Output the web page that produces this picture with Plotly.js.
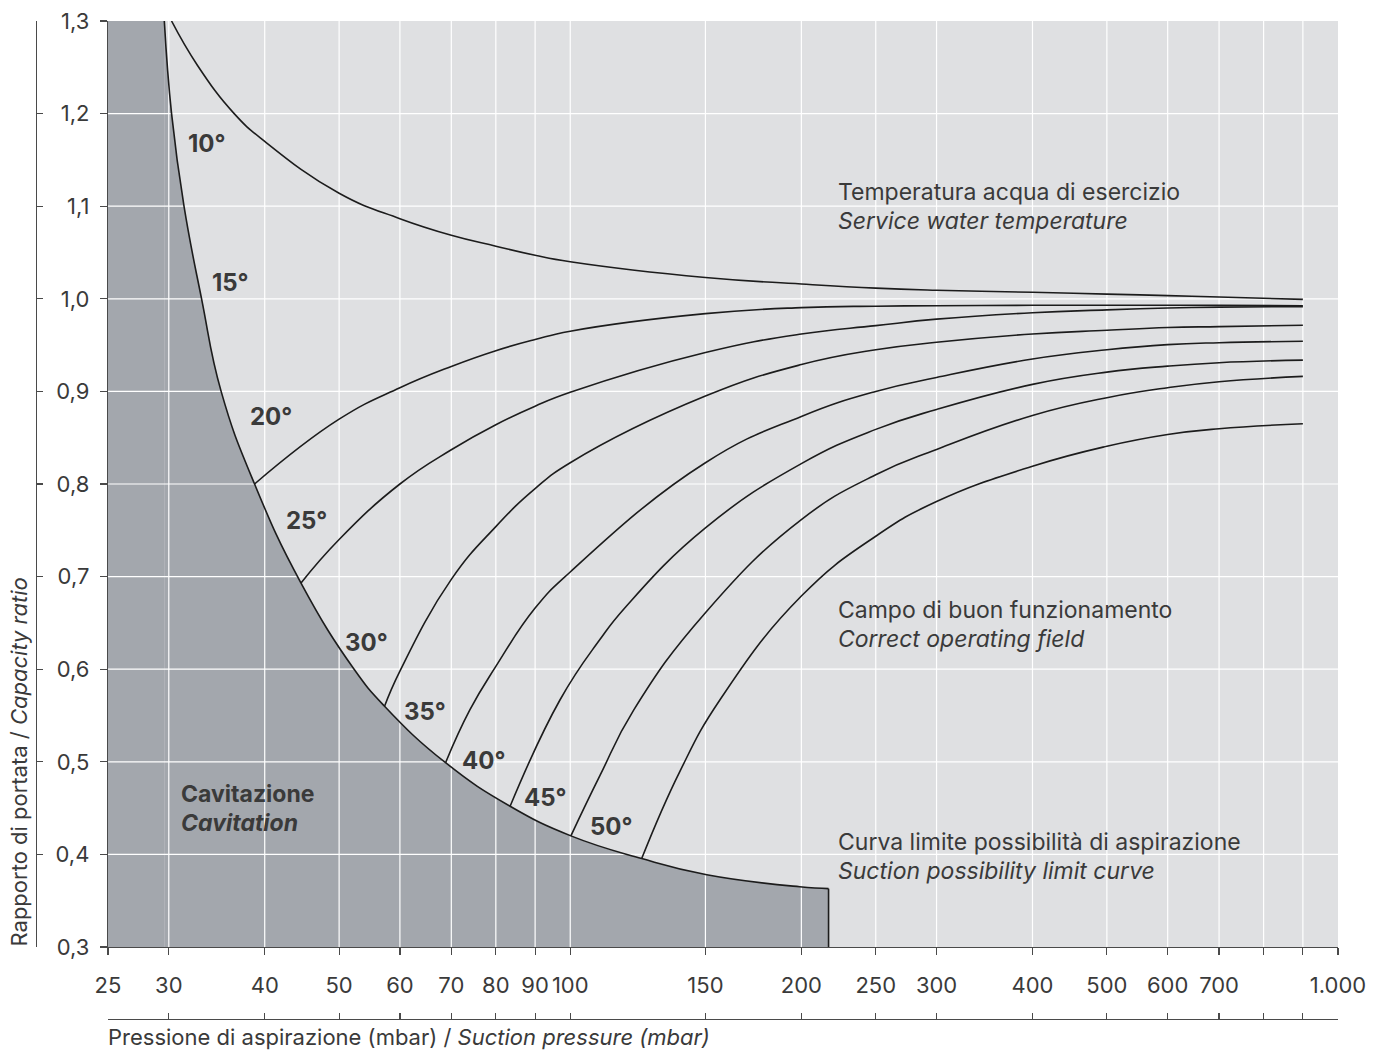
<!DOCTYPE html>
<html>
<head>
<meta charset="utf-8">
<script src="https://cdn.plot.ly/plotly-3.0.1.min.js"></script>
<style>
  html, body { margin: 0; padding: 0; background: #ffffff; }
  #chart { width: 1385px; height: 1050px; }
</style>
</head>
<body>
<div id="chart"></div>
<script>
// ---------- data ----------
const xTickVals = [25, 30, 40, 50, 60, 70, 80, 90, 100, 150, 200, 250, 300, 400, 500, 600, 700, 800, 900, 1000];
const xTickText = ['25', '30', '40', '50', '60', '70', '80', '90', '100', '150', '200', '250', '300', '400', '500', '600', '700', '', '', '1.000'];
const yTickVals = [0.3, 0.4, 0.5, 0.6, 0.7, 0.8, 0.9, 1.0, 1.1, 1.2, 1.3];
const yTickText = ['0,3', '0,4', '0,5', '0,6', '0,7', '0,8', '0,9', '1,0', '1,1', '1,2', '1,3'];

// suction possibility limit curve (border of the cavitation zone)
const limitX = [29.6, 30.25, 31.4, 33.1, 35.1, 38.8, 44.6, 52.3, 57.3, 68.8, 83.5, 100.2, 123.9, 150.6, 199, 217];
const limitY = [1.3, 1.2, 1.1, 1.0, 0.9, 0.80, 0.693, 0.6, 0.56, 0.499, 0.452, 0.42, 0.3955, 0.378, 0.365, 0.363];

// service water temperature curves
const t10X = [30.25, 32.7, 36.5, 40, 50, 60, 70, 80, 90, 100, 150, 200, 250, 300, 400, 500, 600, 700, 900];
const t10Y = [1.3, 1.252, 1.2, 1.170, 1.114, 1.0865, 1.0686, 1.0568, 1.047, 1.040, 1.023, 1.016, 1.0115, 1.0092, 1.0070, 1.0051, 1.0034, 1.0019, 0.9994];

const t20X = [38.8, 50, 60, 70, 80, 90, 100, 150, 200, 250, 300, 400, 500, 600, 700, 900];
const t20Y = [0.80, 0.870, 0.904, 0.927, 0.944, 0.956, 0.965, 0.984, 0.9905, 0.992, 0.9925, 0.993, 0.993, 0.993, 0.993, 0.9925];

const t25X = [44.6, 50, 60, 70, 80, 90, 100, 150, 200, 250, 300, 400, 500, 600, 700, 900];
const t25Y = [0.693, 0.74, 0.800, 0.837, 0.864, 0.884, 0.899, 0.942, 0.962, 0.971, 0.978, 0.985, 0.988, 0.990, 0.991, 0.9916];

const t30X = [57.3, 60, 70, 80, 90, 100, 150, 200, 250, 300, 400, 500, 600, 700, 900];
const t30Y = [0.56, 0.598, 0.697, 0.754, 0.795, 0.823, 0.895, 0.929, 0.945, 0.953, 0.962, 0.966, 0.969, 0.970, 0.9714];

const t35X = [68.8, 74, 80, 90, 100, 150, 200, 250, 300, 400, 500, 600, 700, 900];
const t35Y = [0.499, 0.556, 0.603, 0.666, 0.705, 0.823, 0.873, 0.900, 0.915, 0.935, 0.945, 0.9505, 0.9526, 0.9541];

const t40X = [83.5, 97, 109.3, 118, 150, 200, 250, 300, 400, 500, 600, 700, 900];
const t40Y = [0.452, 0.567, 0.632, 0.667, 0.7526, 0.822, 0.859, 0.8805, 0.9076, 0.9208, 0.9273, 0.931, 0.9338];

const t45X = [100.2, 109.3, 121, 150, 200, 250, 300, 400, 500, 600, 700, 900];
const t45Y = [0.42, 0.485, 0.556, 0.661, 0.7616, 0.81, 0.8373, 0.874, 0.8932, 0.904, 0.9105, 0.9162];

const t50X = [123.9, 139, 156.7, 200, 250, 300, 400, 500, 600, 700, 900];
const t50Y = [0.3955, 0.49, 0.567, 0.679, 0.7436, 0.781, 0.8192, 0.8408, 0.8535, 0.8597, 0.8651];

const tempLabels = ['10°', '15°', '20°', '25°', '30°', '35°', '40°', '45°', '50°'];

// ---------- styling / layout helpers ----------
const W = 1385, H = 1050;
const M = { l: 36, r: 47, t: 21, b: 31 };
const plotLeftPx = 108, plotBottomPx = 947;
const PW = W - M.l - M.r, PH = H - M.t - M.b;
const px2paperX = p => (p - M.l) / PW;
const py2paperY = p => (H - M.b - p) / PH;

const xMin = xTickVals[0], xMax = xTickVals[xTickVals.length - 1];
const yMin = yTickVals[0], yMax = yTickVals[yTickVals.length - 1];

const INK = '#1c1c1c';
const TXT = '#3a3a3a';
const AXC = '#4a4a4a';
const FONT = 'Inter, "Noto Sans", "DejaVu Sans", sans-serif';
const SMOOTH = 1.3;
const CAV = '#a3a7ad';

// gridlines drawn as traces so they sit above the cavitation fill
const gvX = [], gvY = [];
xTickVals.slice(1, -1).forEach(v => { gvX.push(v, v, null); gvY.push(yMin, yMax, null); });
const ghX = [], ghY = [];
yTickVals.slice(1, -1).forEach(v => { ghX.push(xMin, xMax, null); ghY.push(v, v, null); });

function curve(x, y) {
  return { x: x, y: y, type: 'scatter', mode: 'lines', hoverinfo: 'skip', showlegend: false,
           line: { color: INK, width: 1.6, shape: 'spline', smoothing: SMOOTH } };
}

const traces = [
  // cavitation zone: under the limit curve, plus the strip left of its top end
  { x: limitX, y: limitY, type: 'scatter', mode: 'lines',
    fill: 'tozeroy', fillcolor: CAV, line: { width: 0, shape: 'spline', smoothing: SMOOTH },
    hoverinfo: 'skip', showlegend: false },
  { x: [xMin, limitX[0]], y: [yMax, limitY[0]], type: 'scatter', mode: 'lines',
    fill: 'tozeroy', fillcolor: CAV, line: { width: 0 }, hoverinfo: 'skip', showlegend: false },
  // grid
  { x: gvX, y: gvY, type: 'scatter', mode: 'lines', line: { color: '#ffffff', width: 1.2 },
    hoverinfo: 'skip', showlegend: false },
  { x: ghX, y: ghY, type: 'scatter', mode: 'lines', line: { color: '#ffffff', width: 1.2 },
    hoverinfo: 'skip', showlegend: false },
  curve(t10X, t10Y), curve(t20X, t20Y), curve(t25X, t25Y), curve(t30X, t30Y),
  curve(t35X, t35Y), curve(t40X, t40Y), curve(t45X, t45Y), curve(t50X, t50Y),
  curve(limitX, limitY),
  { x: [limitX[limitX.length - 1], limitX[limitX.length - 1]], y: [limitY[limitY.length - 1], yMin],
    type: 'scatter', mode: 'lines', line: { color: INK, width: 1.6 }, hoverinfo: 'skip', showlegend: false },
  // carrier for the outer bracket axes
  { x: [], y: [], xaxis: 'x2', yaxis: 'y2', type: 'scatter', mode: 'lines', hoverinfo: 'skip', showlegend: false }
];

const tickFont = { family: FONT, size: 22, color: TXT };

// label positions (pixel centres in the 1385x1050 frame)
const labelPos = [[207, 144], [230, 282], [271, 416], [306, 520], [367, 642], [425, 711], [483, 760], [545, 797], [611, 826]];

const annotations = tempLabels.map((t, i) => ({
  text: '<b>' + t + '</b>', xref: 'paper', yref: 'paper',
  x: px2paperX(labelPos[i][0]), y: py2paperY(labelPos[i][1]),
  xanchor: 'center', yanchor: 'middle', showarrow: false,
  font: { family: FONT, size: 24, color: TXT }
}));

// two-line blocks
const BIG = s => '<span style="font-size:23px">' + s + '</span>';
function block(l1, l2, pxLeft, pyMid) {
  return { text: BIG(l1) + '<br>' + BIG(l2), xref: 'paper', yref: 'paper',
           x: px2paperX(pxLeft), y: py2paperY(pyMid),
           xanchor: 'left', yanchor: 'middle', align: 'left', showarrow: false,
           font: { family: FONT, size: 22, color: TXT } };
}
annotations.push(block('Temperatura acqua di esercizio', '<i>Service water temperature</i>', 836, 207));
annotations.push(block('Campo di buon funzionamento', '<i>Correct operating field</i>', 836, 624));
annotations.push(block('Curva limite possibilità di aspirazione', '<i>Suction possibility limit curve</i>', 836, 856));
annotations.push(block('<b>Cavitazione</b>', '<b><i>Cavitation</i></b>', 179, 808));

// axis titles
annotations.push({ text: 'Pressione di aspirazione (mbar) / <i>Suction pressure (mbar)</i>',
  xref: 'paper', yref: 'paper', x: px2paperX(106), y: py2paperY(1037),
  xanchor: 'left', yanchor: 'middle', showarrow: false, font: { family: FONT, size: 22, color: TXT } });
annotations.push({ text: 'Rapporto di portata / <i>Capacity ratio</i>',
  xref: 'paper', yref: 'paper', x: px2paperX(18), y: py2paperY(plotBottomPx + 2),
  xanchor: 'center', yanchor: 'bottom', textangle: -90, showarrow: false,
  font: { family: FONT, size: 22, color: TXT } });

const layout = {
  width: W, height: H,
  margin: { l: M.l, r: M.r, t: M.t, b: M.b, pad: 0 },
  paper_bgcolor: '#ffffff', plot_bgcolor: '#dfe0e2',
  showlegend: false, hovermode: false,
  xaxis: {
    type: 'log', range: [Math.log10(xMin), Math.log10(xMax)],
    domain: [px2paperX(plotLeftPx), 1], anchor: 'y',
    tickmode: 'array', tickvals: xTickVals, ticktext: xTickText, tickangle: 0,
    ticks: 'outside', ticklen: 7, tickwidth: 1.2, tickcolor: AXC,
    showline: true, linecolor: AXC, linewidth: 1.2, showgrid: false, zeroline: false,
    tickfont: tickFont, ticklabelstandoff: 11
  },
  yaxis: {
    range: [yMin, yMax], domain: [py2paperY(plotBottomPx), 1], anchor: 'x',
    tickmode: 'array', tickvals: yTickVals, ticktext: yTickText,
    ticks: 'outside', ticklen: 7, tickwidth: 1.2, tickcolor: AXC,
    showline: true, linecolor: AXC, linewidth: 1.2, showgrid: false, zeroline: false,
    tickfont: tickFont, ticklabelstandoff: 6
  },
  xaxis2: {
    type: 'log', range: [Math.log10(xMin), Math.log10(xMax)],
    overlaying: 'x', anchor: 'free', position: 0, side: 'bottom',
    tickmode: 'array', tickvals: xTickVals, showticklabels: false,
    ticks: 'inside', ticklen: 6, tickwidth: 1.2, tickcolor: AXC,
    showline: true, linecolor: AXC, linewidth: 1.2, showgrid: false, zeroline: false
  },
  yaxis2: {
    range: [yMin, yMax], overlaying: 'y', anchor: 'free', position: 0, side: 'left',
    tickmode: 'array', tickvals: yTickVals, showticklabels: false,
    ticks: 'inside', ticklen: 6, tickwidth: 1.2, tickcolor: AXC,
    showline: true, linecolor: AXC, linewidth: 1.2, showgrid: false, zeroline: false
  },
  annotations: annotations
};

Plotly.newPlot('chart', traces, layout, { staticPlot: true, displayModeBar: false });
</script>
</body>
</html>
